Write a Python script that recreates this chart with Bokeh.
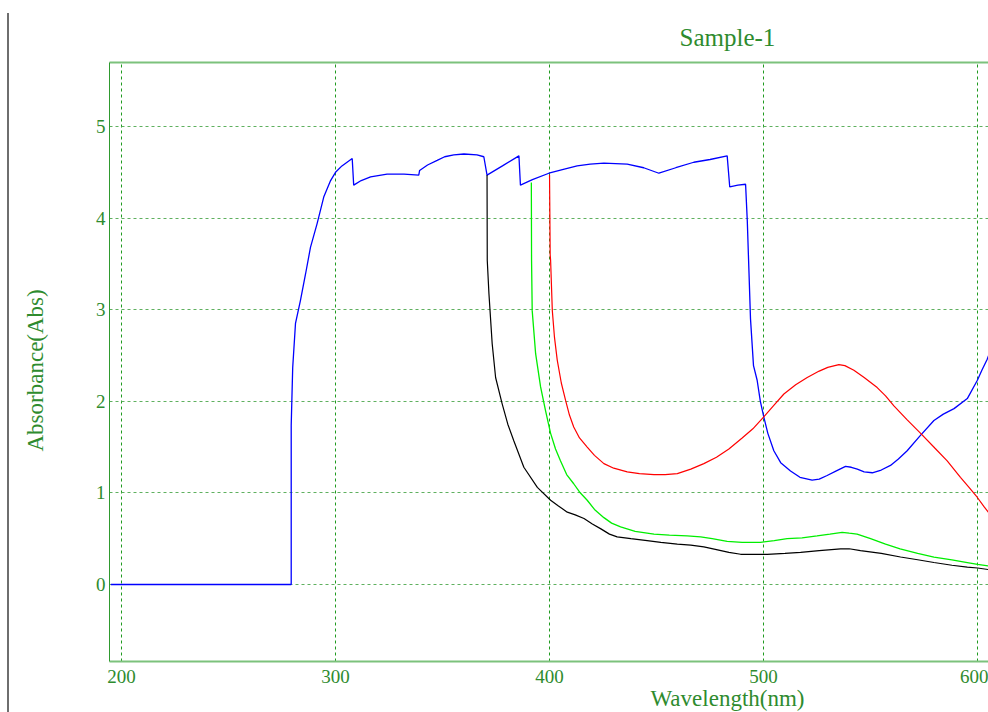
from bokeh.plotting import figure
from bokeh.models import Range1d, FixedTicker, LinearAxis, Title, Div, CustomJSTickFormatter
from bokeh.layouts import row
from bokeh.embed import file_html
from bokeh.resources import INLINE

# ---------------- data ----------------
x_ticks = [200, 300, 400, 500, 600]
y_ticks = [0, 1, 2, 3, 4, 5]

blue_wl = [195, 279.3, 279.3, 280, 281.3, 283.6, 286, 288.3, 291.4, 294.5, 297.7, 300, 303, 307.8,
           308.5, 312, 316.4, 324.1, 332, 338.9, 339.3, 343, 347.5, 351, 355.3, 360, 366.1, 369.3,
           370.8, 378, 385.7, 386.4, 392, 399.7, 406, 412.9, 419, 425.4, 436.3, 444, 451.1, 459,
           467.4, 475, 483, 484.2, 488, 491.6, 492.4, 493.2, 493.9, 495.3, 497, 498.5, 500.1, 502,
           504.8, 508, 512.6, 517, 522.7, 526, 529.7, 534, 538.3, 541, 543.8, 547, 550.8, 555,
           559.3, 563, 567.1, 573, 579.6, 584, 589, 595.2, 599.9, 602, 604.5, 606]
blue_abs = [0, 0, 1.74, 2.37, 2.85, 3.10, 3.39, 3.68, 3.94, 4.23, 4.41, 4.50, 4.57, 4.65,
            4.36, 4.41, 4.45, 4.48, 4.48, 4.47, 4.52, 4.58, 4.63, 4.67, 4.69, 4.70, 4.69, 4.67,
            4.47, 4.57, 4.68, 4.36, 4.42, 4.49, 4.53, 4.57, 4.59, 4.60, 4.59, 4.55, 4.49, 4.55,
            4.61, 4.64, 4.68, 4.34, 4.36, 4.37, 3.97, 3.40, 2.90, 2.39, 2.23, 2.00, 1.83, 1.65,
            1.46, 1.33, 1.24, 1.17, 1.14, 1.15, 1.19, 1.24, 1.29, 1.28, 1.26, 1.23, 1.22, 1.25,
            1.30, 1.37, 1.46, 1.62, 1.79, 1.86, 1.92, 2.03, 2.23, 2.34, 2.46, 2.55]

black_wl = [370.8, 370.9, 371.7, 373.2, 374.8, 377.9, 380.5, 383.3, 388, 394.3, 400.5, 404, 408.3,
            412, 416.1, 420, 423.8, 428, 431.6, 438, 445.6, 452, 459.7, 466, 472.1, 478, 483.8,
            489.3, 495, 501.7, 510, 517.3, 526, 536, 540, 545.3, 555, 564, 572, 579.6, 588, 595.2,
            600, 606]
black_abs = [4.47, 3.54, 3.17, 2.63, 2.26, 1.97, 1.75, 1.57, 1.28, 1.06, 0.92, 0.86, 0.79,
             0.76, 0.72, 0.66, 0.61, 0.55, 0.52, 0.50, 0.48, 0.46, 0.44, 0.43, 0.41, 0.38, 0.35,
             0.33, 0.33, 0.33, 0.34, 0.35, 0.37, 0.39, 0.39, 0.37, 0.34, 0.30, 0.27, 0.24, 0.21, 0.19,
             0.18, 0.16]

green_wl = [391.5, 391.6, 391.9, 393.5, 395.8, 398.1, 400.5, 402.8, 405.1, 408, 411.3, 414, 417.6,
            421, 425.4, 429, 433.2, 440, 448.8, 456, 464.3, 470.6, 476, 483, 490, 498.6, 505, 511,
            518, 525, 531, 536.7, 540, 543.7, 550, 557, 563.8, 572, 579.6, 588, 595.2, 600, 606]
green_abs = [4.39, 3.54, 2.99, 2.52, 2.16, 1.90, 1.65, 1.48, 1.35, 1.20, 1.10, 1.01, 0.92,
             0.82, 0.73, 0.67, 0.63, 0.58, 0.55, 0.54, 0.53, 0.52, 0.50, 0.47, 0.46, 0.46, 0.48, 0.50,
             0.51, 0.53, 0.55, 0.57, 0.56, 0.55, 0.50, 0.44, 0.39, 0.34, 0.30, 0.27, 0.24, 0.22, 0.20]

red_wl = [400, 400.3, 400.5, 401.3, 402.3, 403.6, 405.5, 407.5, 409.3, 411.3, 414, 417.6, 421,
          425.4, 430, 436.3, 442, 448.8, 454, 459.7, 466, 472.1, 478, 483.8, 490, 495, 500.1, 505,
          509.5, 515, 520.4, 526, 530, 535.2, 538, 542.2, 547, 553.1, 557, 560.9, 567, 573.4, 580,
          585.8, 592, 596, 599.9, 603, 606]
red_abs = [4.47, 3.60, 3.54, 2.99, 2.70, 2.45, 2.20, 2.01, 1.85, 1.72, 1.60, 1.50, 1.41,
           1.32, 1.27, 1.23, 1.21, 1.20, 1.20, 1.21, 1.26, 1.32, 1.39, 1.48, 1.60, 1.70, 1.83, 1.96,
           2.08, 2.18, 2.26, 2.33, 2.37, 2.40, 2.39, 2.34, 2.26, 2.15, 2.06, 1.95, 1.80, 1.65, 1.49,
           1.35, 1.17, 1.06, 0.95, 0.85, 0.76]

title_text = "Sample-1"
x_label = "Wavelength(nm)"
y_label = "Absorbance(Abs)"

# ---------------- styling ----------------
TXT = "#2e8b2e"
FONT = "Liberation Serif"

p = figure(width=979, height=712, output_backend="svg", toolbar_location=None,
           x_range=Range1d(194.4, 605.1), y_range=Range1d(-0.8406, 5.699),
           min_border_left=100, min_border_right=0, min_border_top=62, min_border_bottom=51)
p.outline_line_color = None
p.background_fill_color = "white"
p.border_fill_color = "white"

# axes
p.xaxis.ticker = FixedTicker(ticks=x_ticks)
p.yaxis.ticker = FixedTicker(ticks=y_ticks)
for ax in (p.xaxis[0], p.yaxis[0]):
    ax.major_tick_line_color = None
    ax.minor_tick_line_color = None
    ax.major_tick_out = 0
    ax.major_tick_in = 0
    ax.major_label_text_font = FONT
    ax.major_label_text_font_size = "19px"
    ax.major_label_text_color = TXT
p.xaxis.major_label_standoff = 8
p.yaxis.major_label_standoff = 4
p.yaxis.axis_line_color = "#2f9a2f"
p.yaxis.axis_line_width = 1
p.xaxis.axis_line_color = "#7cc27c"
p.xaxis.axis_line_width = 2

top = LinearAxis(major_label_text_font_size="0px", major_tick_line_color=None,
                 minor_tick_line_color=None, axis_line_color="#7cc27c", axis_line_width=2,
                 major_tick_out=0, major_tick_in=0, major_label_standoff=0)
top.ticker = FixedTicker(ticks=[])
p.add_layout(top, "above")

# invisible spacer axis on the left, so the y label sits far from the frame
spacer = LinearAxis(major_label_text_font_size="0px", major_tick_line_color="white",
                    minor_tick_line_color=None, axis_line_color=None,
                    major_tick_out=45, major_tick_in=0, major_label_standoff=0,
                    formatter=CustomJSTickFormatter(code="return ''"))
spacer.ticker = FixedTicker(ticks=[2.0])
p.add_layout(spacer, "left")

# grid
p.xgrid.ticker = FixedTicker(ticks=x_ticks)
p.ygrid.ticker = FixedTicker(ticks=y_ticks)
p.xgrid.grid_line_color = "#1f9a1f"
p.xgrid.grid_line_dash = "3 3"
p.xgrid.grid_line_width = 1
p.ygrid.grid_line_color = "#5fb05f"
p.ygrid.grid_line_dash = "3 3"
p.ygrid.grid_line_width = 1.2

# spectra
p.line(blue_wl, blue_abs, line_color="#0000ff", line_width=1.3)
p.line(black_wl, black_abs, line_color="#000000", line_width=1.2)
p.line(green_wl, green_abs, line_color="#00ee00", line_width=1.3)
p.line(red_wl, red_abs, line_color="#ff0000", line_width=1.2)

# title and axis labels (placed off-centre, like the cropped reference)
p.title.text = title_text
p.title.align = "left"
p.title.offset = 570
p.title.text_font = FONT
p.title.text_font_size = "25px"
p.title.text_font_style = "normal"
p.title.text_color = TXT
p.title.standoff = 23

p.add_layout(Title(text=x_label, align="left", offset=541, text_font=FONT,
                   text_font_size="23px", text_font_style="normal", text_color=TXT,
                   standoff=-3), "below")
p.add_layout(Title(text=y_label, align="left", offset=210, text_font=FONT,
                   text_font_size="23px", text_font_style="normal", text_color=TXT,
                   standoff=0), "left")

edge = Div(width=9, height=699, margin=(13, 0, 0, 0),
           styles={"border-right": "2px solid #6e6e6e", "box-sizing": "border-box"})

layout = row(edge, p, spacing=0)

open("out.html", "w").write(file_html(layout, INLINE))
